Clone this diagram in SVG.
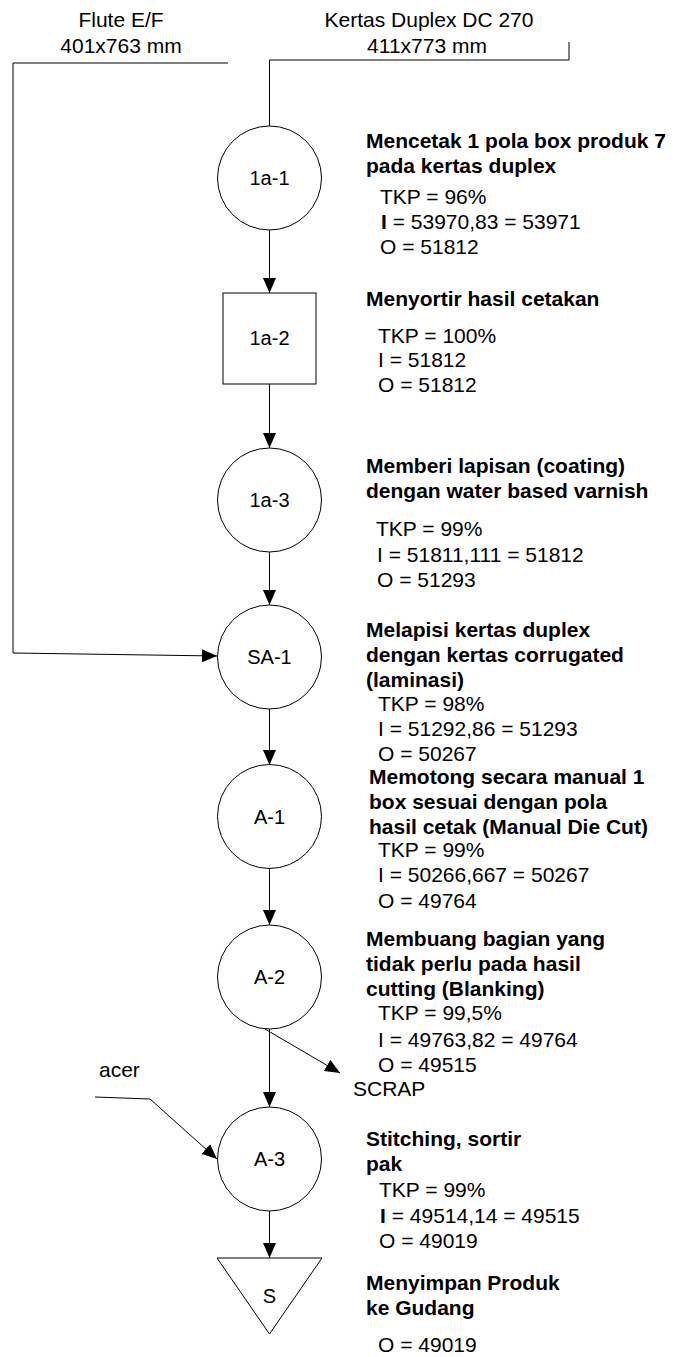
<svg xmlns="http://www.w3.org/2000/svg" width="673" height="1357" viewBox="0 0 673 1357">
  <style>
    text { font-family: "Liberation Sans", Arial, sans-serif; font-size: 21px; fill: #000; }
    .t { font-weight: bold; }
    .c { text-anchor: middle; font-size: 20px; }
    .shape { fill: #fff; stroke: #000; stroke-width: 1; }
    .line { fill: none; stroke: #000; stroke-width: 1; }
  </style>
  <defs>
    <marker id="arrow" markerUnits="userSpaceOnUse" markerWidth="15" markerHeight="13" refX="15" refY="6.5" orient="auto">
      <path d="M0,0 L15,6.5 L0,13 z" fill="#000"/>
    </marker>
  </defs>

  <rect width="673" height="1357" fill="#fff"/>

  <!-- raw material labels -->
  <g id="input-flute">
    <text class="c" x="121" y="27" style="font-size:21px">Flute E/F</text>
    <text class="c" x="121" y="53" style="font-size:21px">401x763 mm</text>
  </g>
  <g id="input-duplex">
    <text class="c" x="429" y="27" style="font-size:21px">Kertas Duplex DC 270</text>
    <text class="c" x="427" y="53" style="font-size:21px">411x773 mm</text>
  </g>

  <!-- connectors -->
  <g id="connectors">
    <polyline class="line" points="569,42 569,60 269.5,60 269.5,126"/>
    <polyline class="line" points="228,63 13,63 13,653 217,656" marker-end="url(#arrow)"/>
    <line class="line" x1="269.5" y1="230" x2="269.5" y2="293" marker-end="url(#arrow)"/>
    <line class="line" x1="269.5" y1="384" x2="269.5" y2="448" marker-end="url(#arrow)"/>
    <line class="line" x1="269.5" y1="552" x2="269.5" y2="605" marker-end="url(#arrow)"/>
    <line class="line" x1="269.5" y1="709" x2="269.5" y2="765" marker-end="url(#arrow)"/>
    <line class="line" x1="269.5" y1="868" x2="269.5" y2="925" marker-end="url(#arrow)"/>
    <line class="line" x1="269.5" y1="1029" x2="269.5" y2="1107" marker-end="url(#arrow)"/>
    <line class="line" x1="265" y1="1029" x2="340" y2="1073" marker-end="url(#arrow)"/>
    <polyline class="line" points="95,1097 150,1099 217,1159" marker-end="url(#arrow)"/>
    <line class="line" x1="269.5" y1="1211" x2="269.5" y2="1258" marker-end="url(#arrow)"/>
  </g>

  <!-- 1a-1 -->
  <g id="node-1a-1">
    <circle class="shape" cx="269.5" cy="178" r="52"/>
    <text class="c" x="269.5" y="185">1a-1</text>
    <text class="t" x="366" y="148">Mencetak 1 pola box produk 7</text>
    <text class="t" x="366" y="173">pada kertas duplex</text>
    <text x="380" y="204">TKP = 96%</text>
    <text x="381" y="229"><tspan class="t">I</tspan> = 53970,83 = 53971</text>
    <text x="380" y="254">O = 51812</text>
  </g>

  <!-- 1a-2 -->
  <g id="node-1a-2">
    <rect class="shape" x="223" y="293" width="93" height="91"/>
    <text class="c" x="269.5" y="345">1a-2</text>
    <text class="t" x="366" y="306">Menyortir hasil cetakan</text>
    <text x="378" y="343">TKP = 100%</text>
    <text x="378" y="367">I = 51812</text>
    <text x="378" y="392">O = 51812</text>
  </g>

  <!-- 1a-3 -->
  <g id="node-1a-3">
    <circle class="shape" cx="269.5" cy="500" r="52"/>
    <text class="c" x="269.5" y="507">1a-3</text>
    <text class="t" x="366" y="473">Memberi lapisan (coating)</text>
    <text class="t" x="366" y="498">dengan water based varnish</text>
    <text x="376" y="536">TKP = 99%</text>
    <text x="377" y="562">I = 51811,111 = 51812</text>
    <text x="377" y="587">O = 51293</text>
  </g>

  <!-- SA-1 -->
  <g id="node-SA-1">
    <circle class="shape" cx="269.5" cy="657" r="52"/>
    <text class="c" x="269.5" y="664">SA-1</text>
    <text class="t" x="366" y="637">Melapisi kertas duplex</text>
    <text class="t" x="366" y="662">dengan kertas corrugated</text>
    <text class="t" x="366" y="687">(laminasi)</text>
    <text x="378" y="711">TKP = 98%</text>
    <text x="378" y="736">I = 51292,86 = 51293</text>
    <text x="378" y="761">O = 50267</text>
  </g>

  <!-- A-1 -->
  <g id="node-A-1">
    <circle class="shape" cx="269.5" cy="816.5" r="52"/>
    <text class="c" x="269.5" y="823.5">A-1</text>
    <text class="t" x="369" y="784">Memotong secara manual 1</text>
    <text class="t" x="369" y="809">box sesuai dengan pola</text>
    <text class="t" x="369" y="834">hasil cetak (Manual Die Cut)</text>
    <text x="378" y="857">TKP = 99%</text>
    <text x="378" y="882">I = 50266,667 = 50267</text>
    <text x="378" y="908">O = 49764</text>
  </g>

  <!-- A-2 -->
  <g id="node-A-2">
    <circle class="shape" cx="269.5" cy="977" r="52"/>
    <text class="c" x="269.5" y="984">A-2</text>
    <text class="t" x="366" y="946">Membuang bagian yang</text>
    <text class="t" x="366" y="971">tidak perlu pada hasil</text>
    <text class="t" x="366" y="996">cutting (Blanking)</text>
    <text x="378" y="1020">TKP = 99,5%</text>
    <text x="378" y="1047">I = 49763,82 = 49764</text>
    <text x="378" y="1072">O = 49515</text>
  </g>

  <g id="scrap">
    <text x="353" y="1096">SCRAP</text>
  </g>

  <g id="input-acer">
    <text x="99" y="1077">acer</text>
  </g>

  <!-- A-3 -->
  <g id="node-A-3">
    <circle class="shape" cx="269.5" cy="1159" r="52"/>
    <text class="c" x="269.5" y="1166">A-3</text>
    <text class="t" x="366" y="1146">Stitching, sortir</text>
    <text class="t" x="366" y="1171">pak</text>
    <text x="379" y="1197">TKP = 99%</text>
    <text x="380" y="1223"><tspan class="t">I</tspan> = 49514,14 = 49515</text>
    <text x="379" y="1248">O = 49019</text>
  </g>

  <!-- S (storage) -->
  <g id="node-S">
    <polygon class="shape" points="217,1258 322,1258 269.5,1334"/>
    <text class="c" x="269.5" y="1303">S</text>
    <text class="t" x="366" y="1290">Menyimpan Produk</text>
    <text class="t" x="366" y="1315">ke Gudang</text>
    <text x="378" y="1352">O = 49019</text>
  </g>
</svg>
